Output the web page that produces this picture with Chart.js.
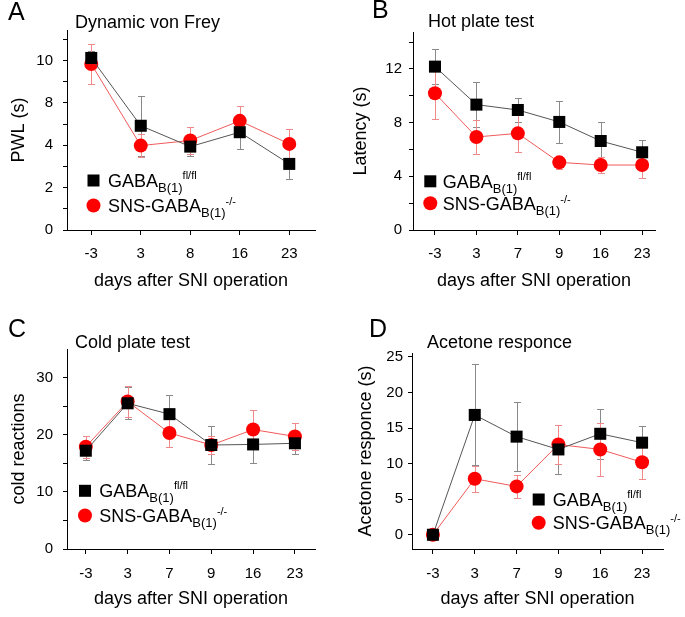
<!DOCTYPE html>
<html>
<head>
<meta charset="utf-8">
<script src="https://cdn.jsdelivr.net/npm/chart.js@4.4.1/dist/chart.umd.min.js"></script>
<style>
  body { margin: 0; background: #fff; }
  #wrap { position: relative; width: 685px; height: 617px; }
  canvas { position: absolute; }
</style>
</head>
<body>
<div id="wrap">
  <canvas id="chartA" width="342" height="300" style="left:0;top:0"></canvas>
  <canvas id="chartB" width="343" height="300" style="left:342px;top:0"></canvas>
  <canvas id="chartC" width="342" height="317" style="left:0;top:300px"></canvas>
  <canvas id="chartD" width="343" height="317" style="left:342px;top:300px"></canvas>
</div>
<script>
const FONT = "'Liberation Sans', Arial, Helvetica, sans-serif";

const daysA = ['-3', '3', '8', '16', '23'];
const daysBCD = ['-3', '3', '7', '9', '16', '23'];

// A - dynamic von Frey (axis units as drawn: labelled ticks sit at 0, 2.5, 5, 7.5, 10)
const pwlFlox = [10.15, 6.15, 4.92, 5.77, 3.90];
const pwlFloxErr = [0.4, 1.77, 0.55, 1.0, 0.89];
const pwlSns = [9.79, 4.98, 5.28, 6.44, 5.08];
const pwlSnsErr = [1.2, 0.7, 0.77, 0.89, 0.9];
const pwlMajor = [0, 2.5, 5, 7.5, 10];
const pwlLabels = ['0', '2', '4', '8', '10'];
const pwlMinor = [1.25, 3.75, 6.25, 8.75, 11.25];

// B - hot plate
const hotFlox = [12.17, 9.34, 8.94, 8.05, 6.63, 5.79];
const hotFloxErr = [1.3, 1.7, 0.87, 1.58, 1.4, 0.91];
const hotSns = [10.19, 6.93, 7.2, 5.04, 4.84, 4.84];
const hotSnsErr = [1.9, 1.27, 1.4, 0.5, 0.62, 1.0];
const hotMajor = [0, 4, 8, 12];
const hotLabels = ['0', '4', '8', '12'];
const hotMinor = [2, 6, 10, 14];

// C - cold plate
const coldFlox = [17.2, 25.5, 23.6, 18.2, 18.3, 18.5];
const coldFloxErr = [1.6, 2.8, 3.3, 3.4, 3.3, 1.9];
const coldSns = [17.9, 25.8, 20.3, 18.2, 20.9, 19.7];
const coldSnsErr = [1.9, 2.7, 2.5, 1.6, 3.4, 2.3];
const coldMajor = [0, 10, 20, 30];
const coldLabels = ['0', '10', '20', '30'];
const coldMinor = [5, 15, 25];

// D - acetone
const aceFlox = [0, 16.85, 13.8, 12.0, 14.2, 12.95];
const aceFloxErr = [0, 7.1, 4.8, 3.4, 3.5, 2.3];
const aceSns = [0, 7.87, 6.8, 12.7, 12.0, 10.2];
const aceSnsErr = [0, 1.8, 1.65, 2.7, 3.7, 2.4];
const aceMajor = [0, 5, 10, 15, 20, 25];
const aceLabels = ['0', '5', '10', '15', '20', '25'];
const aceMinor = [2.5, 7.5, 12.5, 17.5, 22.5];

const floxLabel = [['GABA', 18, 0], ['B(1)', 13, 5], ['fl/fl', 11, -8]];
const snsLabel = [['SNS-GABA', 18, 0], ['B(1)', 13, 5], ['-/-', 11, -7]];

const panels = [
  {
    id: 'chartA', left: 0, top: 0, width: 342, height: 300,
    area: {left: 67, top: 30, right: 315, bottom: 230},
    letter: 'A', letterPos: [8, 20], title: 'Dynamic von Frey', titlePos: [75, 28],
    yTitle: 'PWL (s)', yTitlePad: 8, xTitlePad: 8, yTickPad: 10, xTickPad: 10,
    days: daysA, xMin: -0.49, xMax: 4.52, yMin: 0, yMax: 11.8,
    major: pwlMajor, labels: pwlLabels, minor: pwlMinor,
    flox: pwlFlox, floxErr: pwlFloxErr, sns: pwlSns, snsErr: pwlSnsErr,
    legend: {x: 93.5, y1: 180.5, y2: 205.5, textX: 108}
  },
  {
    id: 'chartB', left: 342, top: 0, width: 343, height: 300,
    area: {left: 71, top: 32, right: 313, bottom: 230},
    letter: 'B', letterPos: [372, 18], title: 'Hot plate test', titlePos: [428, 27],
    yTitle: 'Latency (s)', yTitlePad: 8, xTitlePad: 8, yTickPad: 7, xTickPad: 10,
    days: daysBCD, xMin: -0.53, xMax: 5.31, yMin: 0, yMax: 14.75,
    major: hotMajor, labels: hotLabels, minor: hotMinor,
    flox: hotFlox, floxErr: hotFloxErr, sns: hotSns, snsErr: hotSnsErr,
    legend: {x: 430.3, y1: 181.3, y2: 203.3, textX: 442.7}
  },
  {
    id: 'chartC', left: 0, top: 300, width: 342, height: 317,
    area: {left: 67, top: 49, right: 315, bottom: 249},
    letter: 'C', letterPos: [8, 337], title: 'Cold plate test', titlePos: [75, 348],
    yTitle: 'cold reactions', yTitlePad: 8, xTitlePad: 7, yTickPad: 10, xTickPad: 11,
    days: daysBCD, xMin: -0.45, xMax: 5.48, yMin: 0, yMax: 35,
    major: coldMajor, labels: coldLabels, minor: coldMinor,
    flox: coldFlox, floxErr: coldFloxErr, sns: coldSns, snsErr: coldSnsErr,
    legend: {x: 85, y1: 490.8, y2: 515.5, textX: 99.3}
  },
  {
    id: 'chartD', left: 342, top: 300, width: 343, height: 317,
    area: {left: 70, top: 53, right: 321, bottom: 249},
    letter: 'D', letterPos: [369, 337], title: 'Acetone responce', titlePos: [427, 348],
    yTitle: 'Acetone responce (s)', yTitlePad: 13, xTitlePad: 7, yTickPad: 5, xTickPad: 11,
    days: daysBCD, xMin: -0.5, xMax: 5.5, yMin: -2, yMax: 25.56,
    major: aceMajor, labels: aceLabels, minor: aceMinor,
    flox: aceFlox, floxErr: aceFloxErr, sns: aceSns, snsErr: aceSnsErr,
    legend: {x: 538.7, y1: 499.5, y2: 522.8, textX: 552.7}
  }
];

// error bars go under the markers
const errorBars = {
  id: 'errorBars',
  beforeDatasetsDraw(chart) {
    const {ctx, scales: {x, y}} = chart;
    chart.data.datasets.forEach(ds => {
      ctx.save();
      ctx.strokeStyle = ds.errColor;
      ctx.lineWidth = 1;
      ds.data.forEach((p, i) => {
        const e = ds.err[i];
        if (!e) return;
        const px = Math.round(x.getPixelForValue(p.x)) + 0.5;
        const top = Math.round(y.getPixelForValue(p.y + e)) + 0.5;
        const bot = Math.round(y.getPixelForValue(p.y - e)) + 0.5;
        ctx.beginPath();
        ctx.moveTo(px, top);
        ctx.lineTo(px, bot);
        ctx.moveTo(px - 3.5, top);
        ctx.lineTo(px + 3.5, top);
        ctx.moveTo(px - 3.5, bot);
        ctx.lineTo(px + 3.5, bot);
        ctx.stroke();
      });
      ctx.restore();
    });
  }
};

const drawRich = (ctx, x, y, parts) => {
  parts.forEach(([text, size, dy]) => {
    ctx.font = size + 'px ' + FONT;
    ctx.fillText(text, x, y + dy);
    x += ctx.measureText(text).width;
  });
};

const makePanel = (p) => {
  const ox = p.left, oy = p.top;
  const overlay = {
    id: 'overlay',
    afterDraw(chart) {
      const ctx = chart.ctx;
      ctx.save();
      ctx.fillStyle = '#000';
      ctx.textBaseline = 'alphabetic';
      ctx.textAlign = 'left';
      ctx.font = '25px ' + FONT;
      ctx.fillText(p.letter, p.letterPos[0] - ox, p.letterPos[1] - oy);
      ctx.font = '18px ' + FONT;
      ctx.fillText(p.title, p.titlePos[0] - ox, p.titlePos[1] - oy);

      const lx = p.legend.x - ox;
      ctx.fillRect(lx - 6, p.legend.y1 - oy - 6, 12, 12);
      ctx.fillStyle = '#ff0000';
      ctx.beginPath();
      ctx.arc(lx, p.legend.y2 - oy, 7, 0, Math.PI * 2);
      ctx.fill();
      ctx.fillStyle = '#000';
      drawRich(ctx, p.legend.textX - ox, p.legend.y1 - oy + 6.5, floxLabel);
      drawRich(ctx, p.legend.textX - ox, p.legend.y2 - oy + 6.5, snsLabel);
      ctx.restore();
    }
  };

  const yTicks = p.major.concat(p.minor).sort((a, b) => a - b);

  return new Chart(document.getElementById(p.id), {
    type: 'line',
    data: {
      datasets: [
        {
          label: 'GABAB(1) fl/fl',
          data: p.flox.map((v, i) => ({x: i, y: v})),
          err: p.floxErr,
          errColor: '#8a8a8a',
          borderColor: '#555555',
          borderWidth: 1,
          pointStyle: 'rect',
          pointRadius: 8.5,
          pointBackgroundColor: '#000',
          pointBorderWidth: 0
        },
        {
          label: 'SNS-GABAB(1) -/-',
          data: p.sns.map((v, i) => ({x: i, y: v})),
          err: p.snsErr,
          errColor: '#f08a8a',
          borderColor: '#f05a5a',
          borderWidth: 1,
          pointStyle: 'circle',
          pointRadius: 7,
          pointBackgroundColor: '#ff0000',
          pointBorderWidth: 0
        }
      ]
    },
    options: {
      responsive: false,
      animation: false,
      layout: {padding: {left: 0, top: p.area.top, right: p.width - p.area.right, bottom: 0}},
      plugins: {legend: {display: false}, tooltip: {enabled: false}},
      scales: {
        x: {
          type: 'linear',
          min: p.xMin,
          max: p.xMax,
          afterFit: s => { s.height = p.height - p.area.bottom; },
          afterBuildTicks: s => { s.ticks = p.days.map((d, i) => ({value: i})); },
          ticks: {
            callback: v => p.days[v],
            color: '#000',
            font: {size: 15, family: FONT},
            padding: p.xTickPad,
            maxRotation: 0
          },
          grid: {drawOnChartArea: false, tickLength: 5, color: '#000'},
          border: {color: '#000', width: 1},
          title: {
            display: true,
            text: 'days after SNI operation',
            color: '#000',
            font: {size: 18, family: FONT},
            padding: {top: 0, bottom: p.xTitlePad}
          }
        },
        y: {
          type: 'linear',
          min: p.yMin,
          max: p.yMax,
          afterFit: s => { s.width = p.area.left; },
          afterBuildTicks: s => { s.ticks = yTicks.map(v => ({value: v})); },
          ticks: {
            callback: v => {
              const i = p.major.indexOf(v);
              return i >= 0 ? p.labels[i] : '';
            },
            color: '#000',
            font: {size: 15, family: FONT},
            padding: p.yTickPad
          },
          grid: {drawOnChartArea: false, tickLength: 4, color: '#000'},
          border: {color: '#000', width: 1},
          title: {
            display: true,
            text: p.yTitle,
            color: '#000',
            font: {size: 18, family: FONT},
            padding: {top: p.yTitlePad, bottom: 0}
          }
        }
      }
    },
    plugins: [errorBars, overlay]
  });
};

panels.forEach(makePanel);
</script>
</body>
</html>
